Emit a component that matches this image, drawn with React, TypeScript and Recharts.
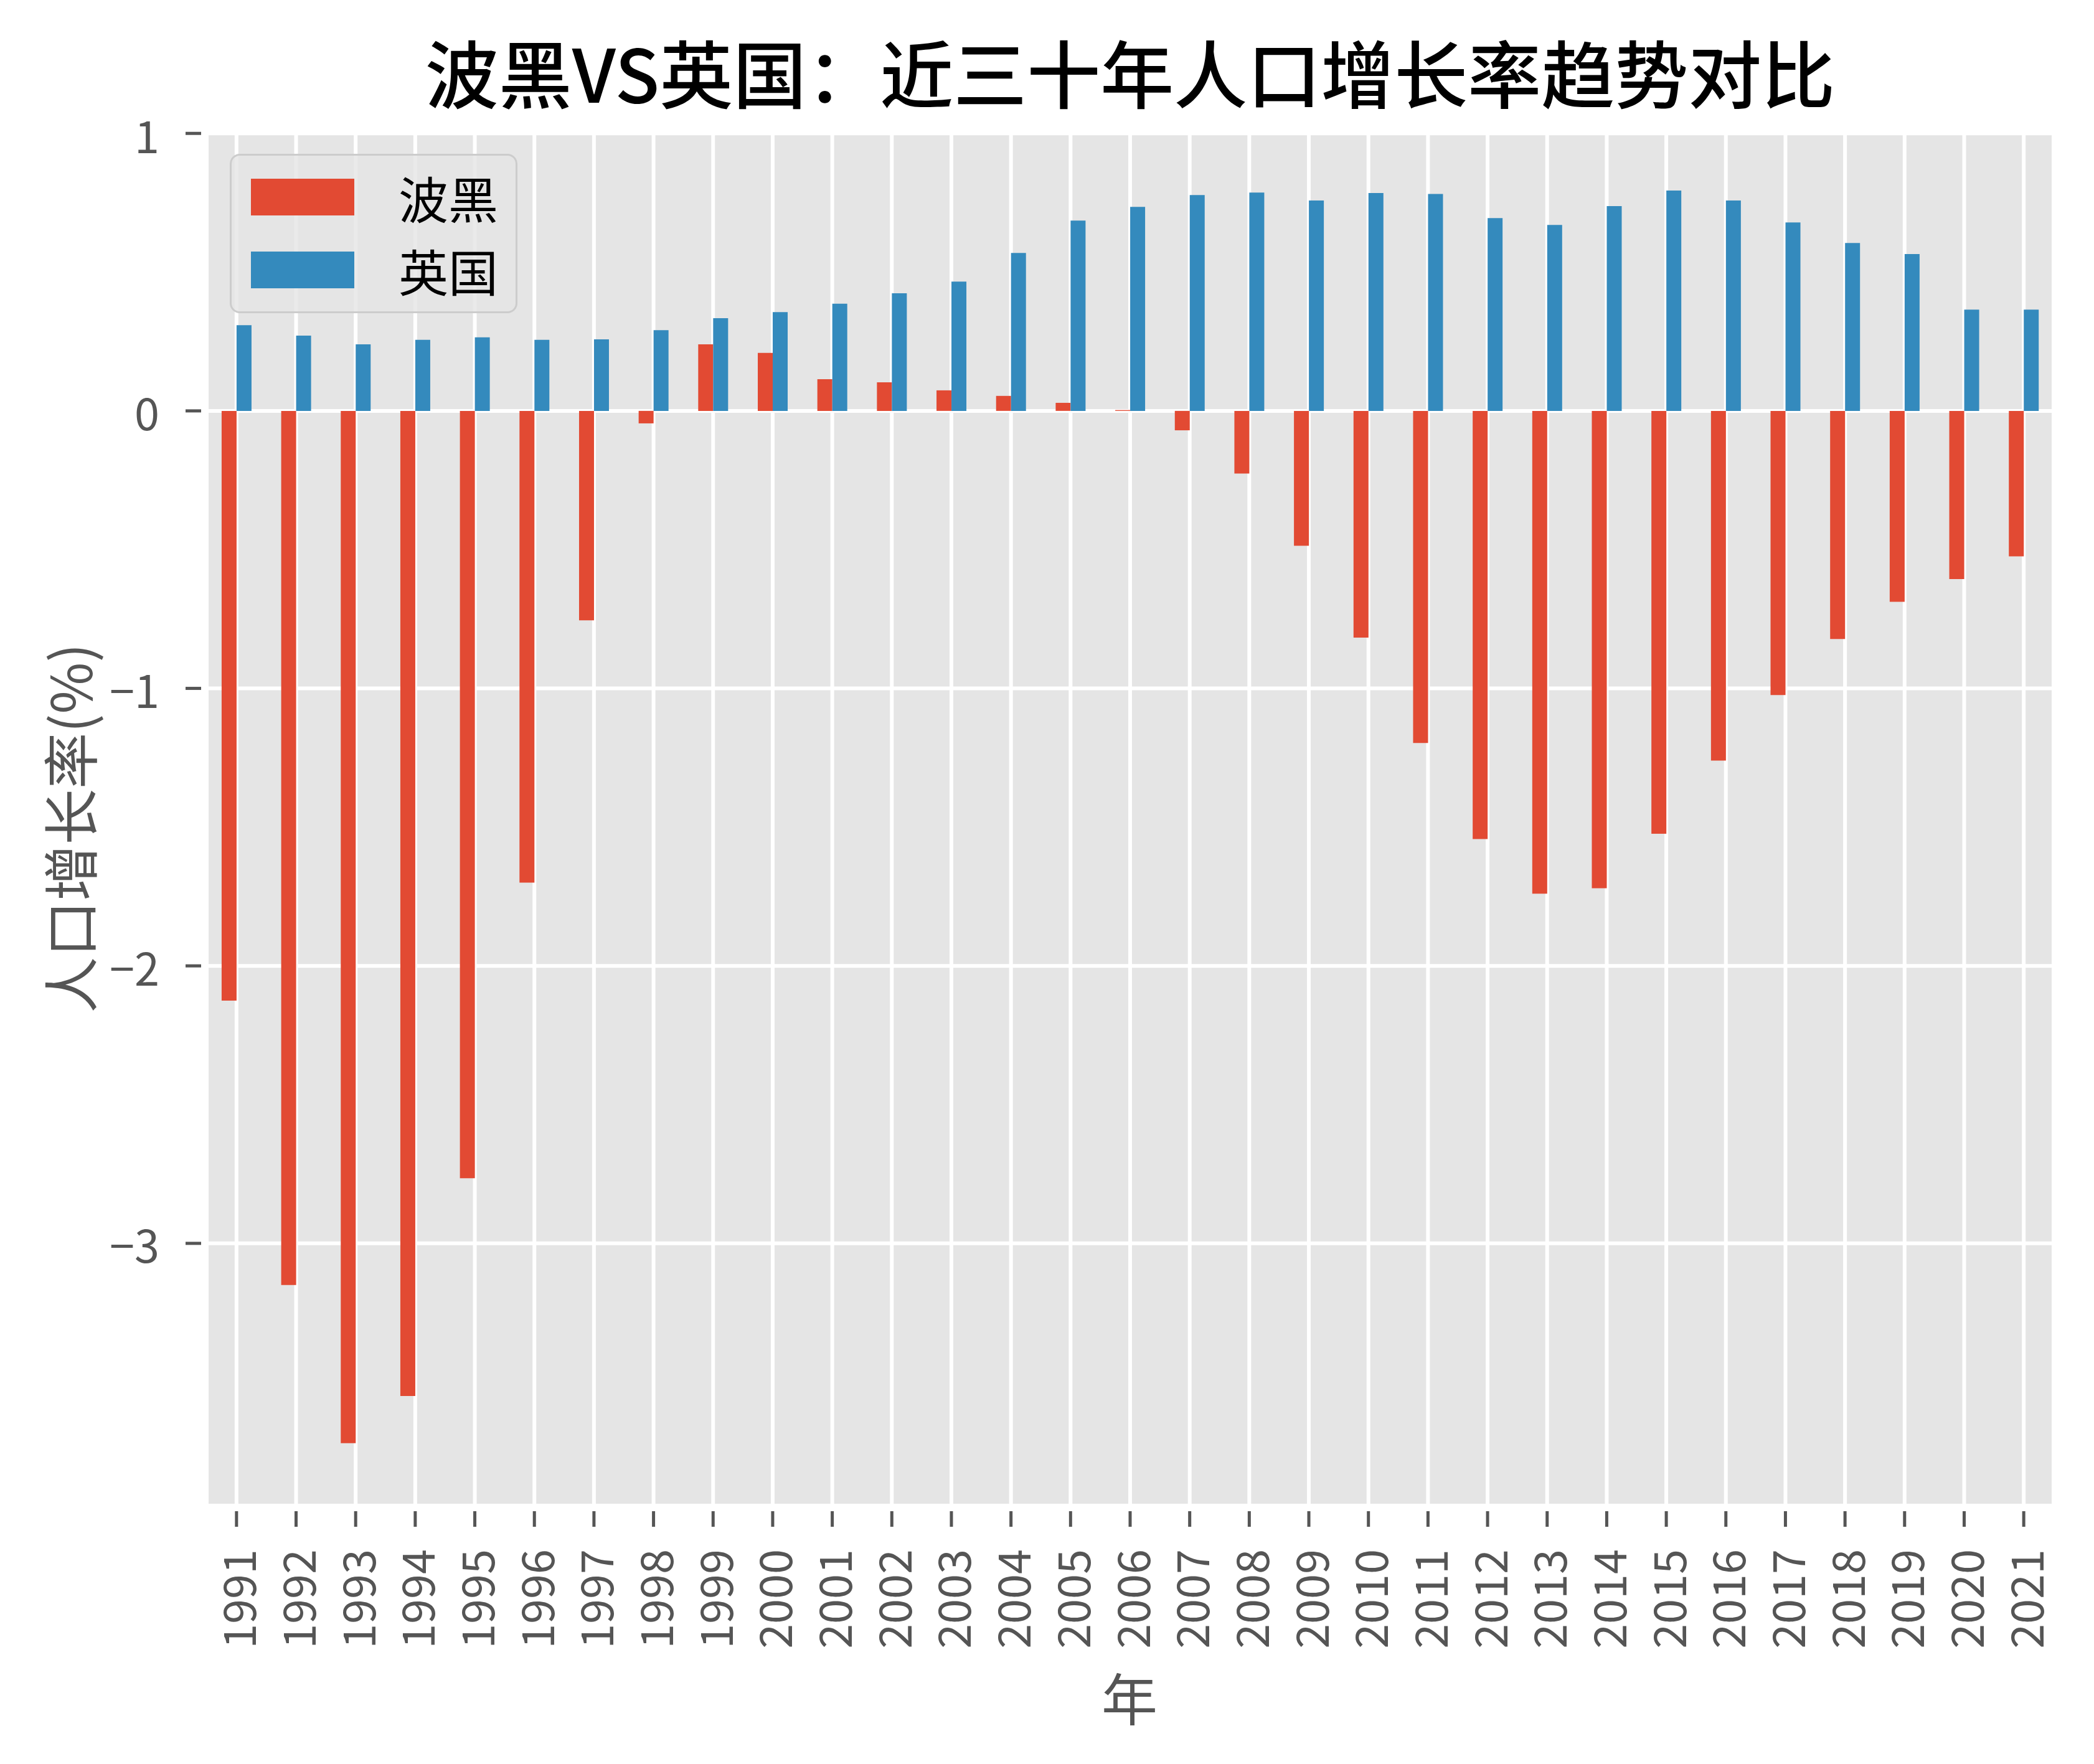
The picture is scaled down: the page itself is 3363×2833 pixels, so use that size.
import React from "react";
import {
  BarChart,
  Bar,
  XAxis,
  YAxis,
  CartesianGrid,
} from "recharts";

// 1991 - 2021
const years = [
  "1991", "1992", "1993", "1994", "1995", "1996", "1997", "1998", "1999", "2000",
  "2001", "2002", "2003", "2004", "2005", "2006", "2007", "2008", "2009", "2010",
  "2011", "2012", "2013", "2014", "2015", "2016", "2017", "2018", "2019", "2020",
  "2021",
];

const bih = [
  -2.125, -3.15, -3.72, -3.55, -2.765, -1.7, -0.755, -0.045, 0.24, 0.209,
  0.114, 0.103, 0.074, 0.054, 0.029, 0.003, -0.07, -0.226, -0.486, -0.817,
  -1.197, -1.543, -1.74, -1.72, -1.524, -1.26, -1.024, -0.822, -0.688, -0.606,
  -0.524,
];

const uk = [
  0.309, 0.271, 0.24, 0.256, 0.265, 0.256, 0.258, 0.291, 0.334, 0.356,
  0.386, 0.424, 0.466, 0.569, 0.686, 0.735, 0.778, 0.787, 0.758, 0.785,
  0.782, 0.695, 0.67, 0.738, 0.794, 0.758, 0.679, 0.605, 0.565, 0.365,
  0.365,
];

const yTicks = [-3, -2, -1, 0, 1];

const seriesNames = ["波黑", "英国"];
const seriesColors = ["#E24A33", "#348ABD"];

const data = years.map((y, i) => ({ year: y, bih: bih[i], uk: uk[i] }));

const FONT = '"Noto Sans CJK SC", "Noto Sans", sans-serif';
const GREY = "#555555";

function fmt(v: number) {
  return v < 0 ? "\u2212" + Math.abs(v) : String(v);
}

function YTick(props: any) {
  const { x, y, payload } = props;
  return (
    <g>
      <line x1={x - 34} x2={x - 9} y1={y} y2={y} stroke={GREY} strokeWidth={5} />
      <text
        x={x - 76}
        y={y}
        textAnchor="end"
        dominantBaseline="central"
        fill={GREY}
        fontSize={72}
        fontFamily={FONT}
      >
        {fmt(payload.value)}
      </text>
    </g>
  );
}

function XTick(props: any) {
  const { x, y, payload } = props;
  const ty = y + 70;
  return (
    <g>
      <line x1={x} x2={x} y1={y + 9} y2={y + 34} stroke={GREY} strokeWidth={5} />
      <text
        x={x}
        y={ty}
        transform={`rotate(-90, ${x}, ${ty})`}
        textAnchor="end"
        dominantBaseline="central"
        fill={GREY}
        fontSize={72}
        fontFamily={FONT}
      >
        {payload.value}
      </text>
    </g>
  );
}

function LegendBox() {
  return (
    <div
      style={{
        position: "absolute",
        left: 369,
        top: 247,
        width: 462,
        height: 256,
        boxSizing: "border-box",
        background: "rgba(229,229,229,0.8)",
        border: "3px solid #CCCCCC",
        borderRadius: 16,
        fontFamily: FONT,
      }}
    >
      {seriesNames.map((n, i) => (
        <div key={n}>
          <div
            style={{
              position: "absolute",
              left: 31,
              top: 37 + i * 117,
              width: 166,
              height: 59,
              background: seriesColors[i],
            }}
          />
          <div
            style={{
              position: "absolute",
              left: 268,
              top: 66 + i * 117,
              transform: "translateY(-50%)",
              fontSize: 80,
              lineHeight: 1,
              color: "#000",
              whiteSpace: "nowrap",
            }}
          >
            {n}
          </div>
        </div>
      ))}
    </div>
  );
}

export default function App() {
  return (
    <div
      style={{
        position: "absolute",
        left: 0,
        top: 0,
        width: 3363,
        height: 2833,
        background: "#fff",
      }}
    >
      <div
        style={{
          position: "absolute",
          left: 0,
          width: 3363,
          paddingLeft: 332,
          paddingRight: 65,
          boxSizing: "border-box",
          top: 114,
          transform: "translateY(-50%)",
          textAlign: "center",
          fontFamily: FONT,
          fontSize: 118,
          fontWeight: 500,
          lineHeight: 1,
          color: "#000",
          whiteSpace: "nowrap",
        }}
      >
        波黑VS英国：近三十年人口增长率趋势对比
      </div>
      <div
        style={{
          position: "absolute",
          left: 109,
          top: 1330,
          transform: "translate(-50%, -50%) rotate(-90deg)",
          fontFamily: FONT,
          fontSize: 90,
          lineHeight: 1,
          color: GREY,
          whiteSpace: "nowrap",
        }}
      >
        人口增长率(%)
      </div>
      <div
        style={{
          position: "absolute",
          left: 1814,
          top: 2724,
          transform: "translate(-50%, -50%)",
          fontFamily: FONT,
          fontSize: 90,
          lineHeight: 1,
          color: GREY,
        }}
      >
        年
      </div>
      <BarChart
        width={3363}
        height={2833}
        data={data}
        margin={{ top: 212, right: 65, left: 0, bottom: 0 }}
        barCategoryGap="25%"
        barGap={0}
      >
        <CartesianGrid stroke="#FFFFFF" strokeWidth={6} fill="#E5E5E5" />
        <XAxis
          dataKey="year"
          height={415}
          axisLine={false}
          tickLine={false}
          tickSize={0}
          tickMargin={0}
          interval={0}
          tick={<XTick />}
        />
        <YAxis
          width={332}
          domain={[-3.945, 1.005]}
          ticks={yTicks}
          allowDataOverflow
          axisLine={false}
          tickLine={false}
          tickSize={0}
          tickMargin={0}
          tick={<YTick />}
        />
        <Bar dataKey="bih" name={seriesNames[0]} fill={seriesColors[0]} isAnimationActive={false} />
        <Bar dataKey="uk" name={seriesNames[1]} fill={seriesColors[1]} isAnimationActive={false} />
      </BarChart>
      <LegendBox />
    </div>
  );
}
